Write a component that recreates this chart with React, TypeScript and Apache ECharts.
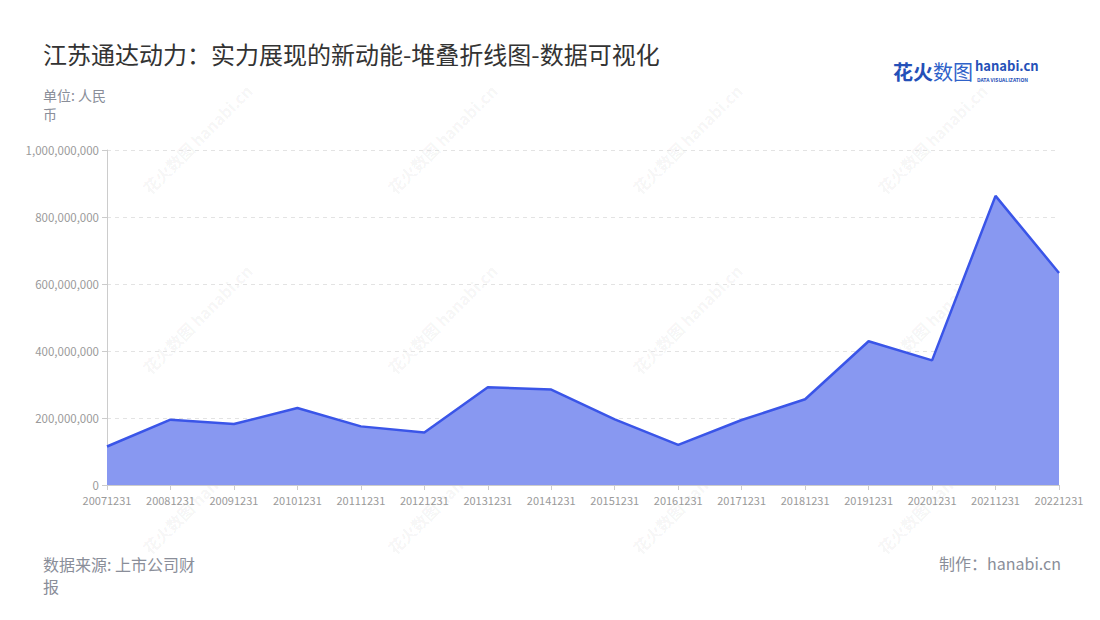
import React, { useEffect, useRef } from "react";
import * as echarts from "echarts";

const categories = [
  "20071231", "20081231", "20091231", "20101231", "20111231", "20121231",
  "20131231", "20141231", "20151231", "20161231", "20171231", "20181231",
  "20191231", "20201231", "20211231", "20221231",
];
const values = [
  115000000, 195000000, 182000000, 230000000, 175000000, 157000000,
  292000000, 285000000, 196000000, 120000000, 194000000, 256000000,
  429000000, 372000000, 863000000, 633000000,
];
const seriesName = "江苏通达动力";
const titleText = "江苏通达动力：实力展现的新动能-堆叠折线图-数据可视化";
const unitText = "单位: 人民币";
const sourceText = "数据来源: 上市公司财报";
const makerText = "制作：hanabi.cn";

const FONT = '"Noto Sans CJK SC", "Noto Sans", sans-serif';

export default function App() {
  const ref = useRef<HTMLDivElement>(null);
  useEffect(() => {
    if (!ref.current) return;
    document.body.style.margin = "0";
    const chart = echarts.init(ref.current, undefined, { renderer: "svg" });
    const watermarks: any[] = [];
    const wmX = [140, 385, 630, 875];
    const wmY = [185, 365, 545];
    wmX.forEach((x) =>
      wmY.forEach((y) =>
        watermarks.push({
          type: "text",
          x,
          y,
          rotation: Math.PI / 4,
          z: 0,
          silent: true,
          style: {
            text: "花火数图 hanabi.cn",
            fill: "rgba(0,0,0,0.05)",
            font: `bold 16px ${FONT}`,
          },
        })
      )
    );
    chart.setOption({
      animation: false,
      textStyle: { fontFamily: FONT },
      title: [
        {
          text: titleText,
          left: 38,
          top: 36,
          textStyle: { fontSize: 24, fontWeight: "normal", color: "#333", fontFamily: FONT },
        },
        {
          text: unitText,
          left: 38,
          top: 80,
          textStyle: {
            fontSize: 14,
            fontWeight: "normal",
            color: "#8a8e99",
            width: 70,
            overflow: "break",
            lineHeight: 19,
            fontFamily: FONT,
          },
        },
        {
          text: sourceText,
          left: 38,
          top: 548,
          textStyle: {
            fontSize: 16,
            fontWeight: "normal",
            color: "#8a8e99",
            width: 168,
            overflow: "break",
            lineHeight: 22,
            fontFamily: FONT,
          },
        },
        {
          text: makerText,
          right: 34,
          top: 550,
          textStyle: { fontSize: 16, fontWeight: "normal", color: "#8a8e99", fontFamily: FONT },
        },
      ],
      graphic: [
        ...watermarks,
        {
          type: "text",
          x: 893,
          y: 61,
          style: { text: "花火", fill: "#2450b8", font: `bold 20px ${FONT}` },
        },
        {
          type: "text",
          x: 933,
          y: 61,
          style: { text: "数图", fill: "#2f62c9", font: `20px ${FONT}` },
        },
        {
          type: "text",
          x: 975,
          y: 59,
          style: { text: "hanabi.cn", fill: "#2450b8", font: `bold 13px ${FONT}` },
        },
        {
          type: "text",
          x: 977,
          y: 77,
          style: { text: "DATA VISUALIZATION", fill: "#2450b8", font: `bold 5px ${FONT}` },
        },
      ],
      grid: { left: 107, right: 41, top: 150, bottom: 135, containLabel: false },
      xAxis: {
        type: "category",
        data: categories,
        boundaryGap: false,
        axisLine: { lineStyle: { color: "#ccc" } },
        axisTick: { show: true, alignWithLabel: true, lineStyle: { color: "#ccc" } },
        axisLabel: { color: "#9a9a9a", fontSize: 11, interval: 0, margin: 9 },
      },
      yAxis: {
        type: "value",
        min: 0,
        max: 1000000000,
        interval: 200000000,
        axisLine: { show: true, lineStyle: { color: "#ccc" } },
        axisTick: { show: true, lineStyle: { color: "#ccc" } },
        axisLabel: {
          color: "#9a9a9a",
          fontSize: 11.5,
          formatter: (v: number) => v.toLocaleString("en-US"),
        },
        splitLine: { show: true, lineStyle: { color: "#e3e3e3", type: [4, 4] } },
      },
      series: [
        {
          name: seriesName,
          type: "line",
          stack: "total",
          data: values,
          symbol: "none",
          lineStyle: { color: "#3a55e8", width: 2.5 },
          itemStyle: { color: "#3a55e8" },
          areaStyle: { color: "#8898f1", opacity: 1 },
        },
      ],
    });
    return () => chart.dispose();
  }, []);
  return <div ref={ref} style={{ width: 1100, height: 620 }} />;
}
